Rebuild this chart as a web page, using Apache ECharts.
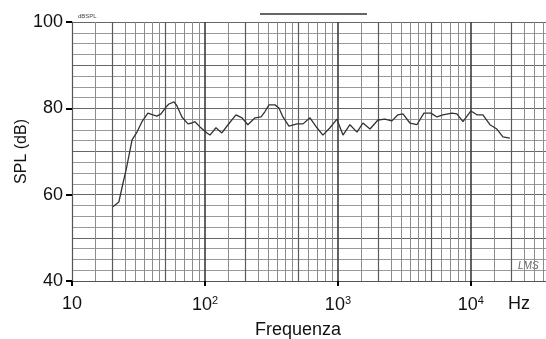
<!DOCTYPE html>
<html>
<head>
<meta charset="utf-8">
<script src="https://cdn.jsdelivr.net/npm/echarts@6/dist/echarts.min.js"></script>
<style>
html,body{margin:0;padding:0;background:#fff;}
#chart{width:546px;height:339px;}
</style>
</head>
<body>
<div id="chart"></div>
<script>
const freqHz = [20.3,22.5,24.2,25.5,28.3,30.8,33.6,37.2,40.6,43.5,46.7,50.9,53.6,58.5,61.5,67.1,74.5,79.8,84.1,91.7,103.5,109,121,134,149,171,190,210,238,264,282,303,336,360,386,428,492,546,616,695,771,871,982,1091,1231,1390,1542,1741,2000,2255,2546,2825,3083,3476,3925,4432,5003,5548,6153,7194,7848,8710,10000,11100,12310,13900,15670,17400,19640];
const splDb = [57.2,58.3,62.7,65.7,72.7,74.5,76.9,78.9,78.5,78.2,78.7,80.3,81.0,81.5,80.6,78.0,76.4,76.6,76.9,75.7,74.3,73.8,75.5,74.3,76.2,78.5,77.8,76.2,77.8,78.0,79.2,80.8,80.8,80.1,78.0,75.9,76.4,76.4,77.8,75.5,73.8,75.5,77.5,73.8,76.2,74.5,76.6,75.2,77.3,77.5,77.1,78.5,78.7,76.6,76.2,78.9,78.9,78.0,78.5,78.9,78.7,76.9,79.4,78.5,78.5,76.2,75.2,73.4,73.1];

// Axis ticks / labels
const xTickValues = [10, 100, 1000, 10000];
const xTickLabels = ['10', '10{sup|2}', '10{sup|3}', '10{sup|4}'];
const yTickLabels = ['40', '60', '80', '100'];

// Paper grid (printed log paper)
const paperDecades = [10, 100, 1000, 10000];
const paperMajorMult = [1];
const paperMidMult = [2, 5];
const paperMinorMult = [1.5, 2.5, 3, 3.5, 4, 4.5, 6, 7, 8, 9];

const xMin = 10, xMax = 36700;

function gridLines(mults){
  const out = [];
  paperDecades.forEach(d => mults.forEach(m => {
    const v = d * m;
    if (v > xMin && v < xMax) out.push({xAxis: v});
  }));
  return out;
}

const chart = echarts.init(document.getElementById('chart'), null, {renderer: 'canvas'});
const font = '"Liberation Sans", Arial, sans-serif';

function gridSeries(data, color, width){
  return {
    type: 'line', data: [], silent: true, animation: false,
    markLine: {
      silent: true, symbol: ['none','none'], animation: false,
      label: {show: false},
      lineStyle: {color: color, width: width, type: 'solid'},
      emphasis: {disabled: true},
      data: data
    }
  };
}

chart.setOption({
  animation: false,
  backgroundColor: '#ffffff',
  grid: {left: 72, right: 0, top: 22, bottom: 58, containLabel: false, outerBoundsMode: 'none'},
  xAxis: {
    type: 'log', logBase: 10, min: xMin, max: xMax,
    name: 'Frequenza', nameLocation: 'middle', nameGap: 40, nameMoveOverlap: false,
    nameTextStyle: {fontFamily: font, fontSize: 18, color: '#111', padding: [0, 22, 0, 0]},
    axisLine: {show: true, lineStyle: {color: '#555', width: 1.2}},
    axisTick: {show: true, inside: false, length: 5, lineStyle: {color: '#000', width: 2}},
    splitLine: {show: false},
    minorTick: {show: false}, minorSplitLine: {show: false},
    axisLabel: {
      show: true, margin: 14, showMaxLabel: false,
      fontFamily: font, fontSize: 18, color: '#111',
      formatter: function(v){
        const i = xTickValues.findIndex(t => Math.abs(t - v) / t < 1e-6);
        return i >= 0 ? xTickLabels[i] : '';
      },
      rich: {sup: {fontFamily: font, fontSize: 11, color: '#111', padding: [0, 0, 10, 0]}}
    }
  },
  yAxis: [{
    type: 'value', min: 40, max: 100, interval: 20,
    name: 'SPL (dB)', nameLocation: 'middle', nameGap: 42, nameRotate: 90, nameMoveOverlap: false,
    nameTextStyle: {fontFamily: font, fontSize: 16, color: '#111'},
    axisLine: {show: true, lineStyle: {color: '#555', width: 1.2}},
    axisTick: {show: true, length: 6, lineStyle: {color: '#000', width: 2}},
    axisLabel: {
      margin: 9, fontFamily: font, fontSize: 18, color: '#111',
      formatter: function(v){
        const i = [40,60,80,100].indexOf(v);
        return i >= 0 ? yTickLabels[i] : '';
      }
    },
    splitLine: {show: false}
  }, {
    type: 'value', min: 40, max: 100, interval: 10, position: 'left',
    axisLine: {show: false}, axisTick: {show: false}, axisLabel: {show: false},
    splitLine: {show: true, lineStyle: {color: '#666', width: 1.1}},
    minorTick: {show: false, splitNumber: 4},
    minorSplitLine: {show: true, lineStyle: {color: '#9a9a9a', width: 1}}
  }],
  graphic: [
    {type: 'text', left: 508, top: 295, silent: true,
     style: {text: 'Hz', font: '18px ' + font, fill: '#111'}},
    {type: 'text', left: 78, top: 13, silent: true,
     style: {text: 'dBSPL', font: '6px ' + font, fill: '#444'}},
    {type: 'text', left: 518, top: 261, silent: true,
     style: {text: 'LMS', font: 'italic 10px ' + font, fill: '#666'}},
    {type: 'line', silent: true, shape: {x1: 260, y1: 14, x2: 367, y2: 14},
     style: {stroke: '#333', lineWidth: 1.5}}
  ],
  series: [
    gridSeries(gridLines(paperMinorMult), '#8c8c8c', 1),
    gridSeries(gridLines(paperMidMult), '#5a5a5a', 1.2),
    gridSeries(gridLines(paperMajorMult), '#3c3c3c', 1.6),
    {
      type: 'line', name: 'SPL',
      data: freqHz.map((f, i) => [f, splDb[i]]),
      showSymbol: false, smooth: false, z: 5,
      lineStyle: {color: '#333', width: 1.3}
    }
  ]
});
</script>
</body>
</html>
